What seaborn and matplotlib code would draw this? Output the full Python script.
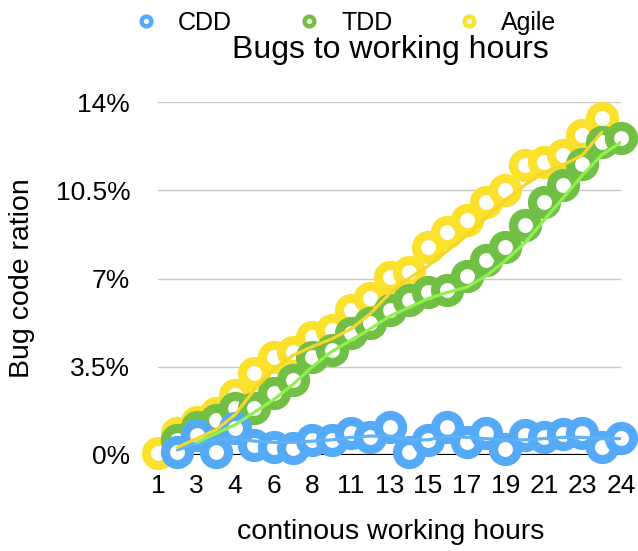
import matplotlib
matplotlib.use("Agg")
import matplotlib.pyplot as plt
from matplotlib.lines import Line2D
import seaborn as sns
import pandas as pd

# --- chart data ---
hour_labels = ["1", "3", "4", "6", "8", "11", "13", "15", "17", "19", "21", "23", "24"]
label_slots = [0, 2, 4, 6, 8, 10, 12, 14, 16, 18, 20, 22, 24]

cdd_slots = list(range(1, 25))
cdd_ratio = [0.12, 0.8, 0.12, 1.07, 0.4, 0.32, 0.28, 0.6, 0.6, 0.87, 0.71, 1.11,
             0.12, 0.6, 1.11, 0.52, 0.87, 0.24, 0.79, 0.71, 0.83, 0.87, 0.32, 0.67]

tdd_slots = list(range(1, 25))
tdd_ratio = [0.6, 1.1, 1.4, 1.85, 1.85, 2.46, 2.98, 3.89, 4.17, 4.84, 5.24, 5.75,
             6.15, 6.47, 6.55, 7.1, 7.74, 8.25, 9.13, 10.04, 10.7, 11.55, 12.4, 12.58]

agile_slots = list(range(0, 24))
agile_ratio = [0.08, 0.87, 1.3, 1.67, 2.38, 3.25, 3.89, 4.09, 4.68, 4.96, 5.75, 6.23,
               7.06, 7.26, 8.25, 8.85, 9.33, 10.04, 10.52, 11.5, 11.63, 11.9, 12.7, 13.37]

# thin trend lines drawn over the rings
cdd_trend_slots = list(range(1, 25))
cdd_trend = [0.2, 0.45, 0.6, 0.65, 0.55, 0.5, 0.5, 0.55, 0.6, 0.7, 0.75, 0.75,
             0.6, 0.6, 0.75, 0.7, 0.65, 0.6, 0.6, 0.65, 0.7, 0.7, 0.65, 0.65]
tdd_trend_slots = list(range(2, 25))
tdd_trend = [0.5, 0.85, 1.2, 1.7, 2.2, 2.8, 3.5, 4.1, 4.55, 5.0, 5.5, 5.85,
             6.2, 6.45, 6.65, 7.1, 7.7, 8.4, 9.3, 10.2, 11.1, 11.9, 12.4]
agile_trend_slots = list(range(1, 24))
agile_trend = [0.3, 0.65, 1.0, 1.6, 2.6, 3.4, 3.95, 4.3, 4.6, 5.0, 5.6, 6.4,
               7.0, 7.5, 8.1, 8.7, 9.4, 10.1, 10.7, 11.2, 11.5, 11.9, 12.8]

y_ticks = [0, 3.5, 7, 10.5, 14]
y_tick_labels = ["0%", "3.5%", "7%", "10.5%", "14%"]

BLUE, GREEN, YELLOW = "#55aaf7", "#71bf44", "#fbe02c"
BLUE_LINE, GREEN_LINE, YELLOW_LINE = "#5fb2f8", "#8ff04e", "#f6d62a"

sns.set_theme(style="white")
plt.rcParams["font.family"] = ["Liberation Sans", "DejaVu Sans"]
plt.rcParams["text.color"] = "black"
plt.rcParams["xtick.color"] = "black"
plt.rcParams["ytick.color"] = "black"

fig = plt.figure(figsize=(6.38, 5.51), dpi=100)
ax = fig.add_axes([158 / 638, 1 - 455 / 551, 463 / 638, 353 / 551])

for y in y_ticks[1:]:
    ax.axhline(y, color="#c9c9c9", lw=1, zorder=0)
ax.axhline(0, color="black", lw=1.6, zorder=1)

# open rings: white face, thick coloured edge
ring = dict(s=300, facecolor="white", linewidth=6.6, clip_on=False, zorder=3, legend=False)
series = [
    (agile_slots, agile_ratio, YELLOW),
    (tdd_slots, tdd_ratio, GREEN),
    (cdd_slots, cdd_ratio, BLUE),
]
for xs, ys, col in series:
    df = pd.DataFrame({"slot": xs, "ratio": ys})
    sns.scatterplot(data=df, x="slot", y="ratio", edgecolor=col, ax=ax, **ring)

trends = [
    (cdd_trend_slots, cdd_trend, BLUE_LINE),
    (agile_trend_slots, agile_trend, YELLOW_LINE),
    (tdd_trend_slots, tdd_trend, GREEN_LINE),
]
for xs, ys, col in trends:
    df = pd.DataFrame({"slot": xs, "ratio": ys})
    sns.lineplot(data=df, x="slot", y="ratio", color=col, lw=2.3, ax=ax, zorder=4)

ax.set_xlim(0, 24)
ax.set_ylim(0, 14)
ax.set_xticks(label_slots)
ax.set_xticklabels(hour_labels, fontsize=19)
ax.set_yticks(y_ticks)
ax.set_yticklabels(y_tick_labels, fontsize=19)
ax.tick_params(axis="y", length=0, pad=20)
ax.tick_params(axis="x", length=0, pad=14)
ax.set_xlabel("")
ax.set_ylabel("")
for sp in ax.spines.values():
    sp.set_visible(False)

fig.text(22 / 638, 1 - 278 / 551, "Bug code ration", rotation=90,
         ha="center", va="center", fontsize=20.5)
fig.text(391 / 638, 1 - 532 / 551, "continous working hours",
         ha="center", va="center", fontsize=20.5)
fig.text(390 / 638, 1 - 50 / 551, "Bugs to working hours",
         ha="center", va="center", fontsize=23)

handles = [
    Line2D([], [], ls="none", marker="o", ms=7, mew=3.2, mfc="white", mec=c)
    for c in (BLUE, GREEN, YELLOW)
]
fig.legend(handles, ["CDD", "TDD", "Agile"], loc="center", ncol=3,
           bbox_to_anchor=(345 / 638, 1 - 23 / 551), frameon=False,
           fontsize=18, handlelength=1.0, handletextpad=0.78, columnspacing=2.58)

fig.savefig("out.png", dpi=100)
